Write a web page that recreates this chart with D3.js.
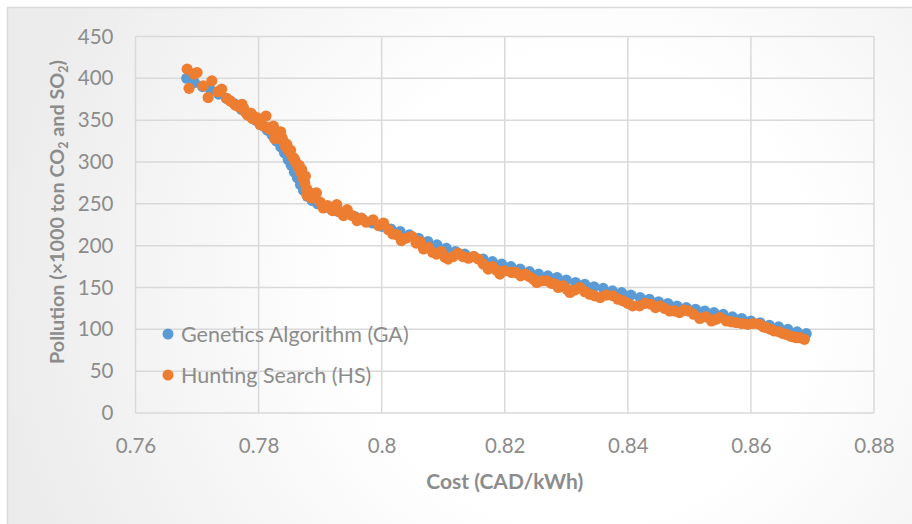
<!DOCTYPE html>
<html>
<head>
<meta charset="utf-8">
<script src="https://cdn.jsdelivr.net/npm/d3@7"></script>
<style>
    body { margin: 0; background: #ffffff; }
    svg { display: block; }
    text { font-family: Lato, "Open Sans", sans-serif; fill: #8c8c8c; }
</style>
</head>
<body>
<script>
// Genetics Algorithm (GA) - cost (CAD/kWh) and pollution (x1000 ton)
const gaCost = [
    0.7683, 0.7696, 0.7709, 0.7722, 0.7735, 0.7748, 0.7760, 0.7772, 0.7784, 0.7795,
    0.7805, 0.7814, 0.7822, 0.7829, 0.7836, 0.7842, 0.7848, 0.7853, 0.7858, 0.7863,
    0.7868, 0.7873, 0.7879, 0.7887, 0.7896, 0.7906, 0.7917, 0.7929, 0.7942, 0.7956,
    0.7970, 0.7985, 0.8000, 0.8015, 0.8030, 0.8045, 0.8060, 0.8075, 0.8090, 0.8105,
    0.8120, 0.8135, 0.8150, 0.8165, 0.8180, 0.8195, 0.8210, 0.8225, 0.8240, 0.8255,
    0.8270, 0.8285, 0.8300, 0.8315, 0.8330, 0.8345, 0.8360, 0.8375, 0.8390, 0.8405,
    0.8420, 0.8435, 0.8450, 0.8465, 0.8480, 0.8495, 0.8510, 0.8525, 0.8540, 0.8555,
    0.8570, 0.8585, 0.8600, 0.8615, 0.8630, 0.8645, 0.8660, 0.8675, 0.8690
];
const gaPollution = [
    400, 395, 390, 386, 381, 376, 370, 363, 356, 350,
    344, 338, 332, 325, 318, 311, 303, 296, 288, 281,
    273, 266, 259, 254, 250, 247, 244, 241, 238, 235,
    231, 227, 223, 220, 217, 213, 209, 205, 201, 197,
    193, 190, 187, 184, 181, 178, 175, 172, 169, 166,
    164, 162, 159, 156, 154, 151, 149, 146, 144, 141,
    138, 136, 133, 131, 128, 126, 124, 122, 120, 118,
    115, 113, 110, 108, 105, 103, 100, 97, 95
];

// Hunting Search (HS)
const hsCost = [
    0.7684, 0.7687, 0.7695, 0.7700, 0.7710, 0.7718, 0.7724, 0.7734, 0.7740, 0.7748,
    0.7754, 0.7762, 0.7768, 0.7773, 0.7778, 0.7782, 0.7790, 0.7797, 0.7802, 0.7808,
    0.7812, 0.7818, 0.7824, 0.7826, 0.7830, 0.7836, 0.7840, 0.7846, 0.7850, 0.7855,
    0.7860, 0.7864, 0.7868, 0.7872, 0.7875, 0.7878, 0.7879, 0.7886, 0.7894, 0.7900,
    0.7905, 0.7912, 0.7920, 0.7927, 0.7933, 0.7938, 0.7944, 0.7952, 0.7960, 0.7967,
    0.7975, 0.7986, 0.7995, 0.8003, 0.8011, 0.8018, 0.8025, 0.8032, 0.8040, 0.8049,
    0.8056, 0.8062, 0.8068, 0.8076, 0.8083, 0.8089, 0.8097, 0.8103, 0.8108, 0.8116,
    0.8124, 0.8132, 0.8141, 0.8149, 0.8157, 0.8165, 0.8173, 0.8180, 0.8186, 0.8192,
    0.8200, 0.8211, 0.8218, 0.8226, 0.8233, 0.8240, 0.8246, 0.8252, 0.8260, 0.8268,
    0.8276, 0.8282, 0.8287, 0.8295, 0.8301, 0.8306, 0.8314, 0.8322, 0.8330, 0.8338,
    0.8346, 0.8355, 0.8365, 0.8376, 0.8384, 0.8392, 0.8400, 0.8408, 0.8419, 0.8428,
    0.8438, 0.8445, 0.8452, 0.8460, 0.8468, 0.8476, 0.8484, 0.8491, 0.8498, 0.8507,
    0.8517, 0.8527, 0.8536, 0.8543, 0.8550, 0.8560, 0.8568, 0.8576, 0.8585, 0.8595,
    0.8604, 0.8614, 0.8620, 0.8625, 0.8632, 0.8638, 0.8646, 0.8652, 0.8657, 0.8664,
    0.8669, 0.8674, 0.8680, 0.8687,
    // extra points along the steep part
    0.7776, 0.7788, 0.7800, 0.7815, 0.7828, 0.7838, 0.7844, 0.7852, 0.7858, 0.7866,
    0.7870, 0.7876, 0.7882, 0.7890
];
const hsPollution = [
    411, 388, 405, 407, 391, 377, 397, 384, 387, 376,
    373, 368, 366, 369, 360, 356, 352, 353, 345, 343,
    355, 339, 343, 328, 332, 336, 325, 321, 312, 306,
    300, 294, 288, 281, 275, 268, 260, 257, 263, 252,
    245, 248, 242, 249, 240, 236, 243, 236, 230, 233,
    228, 231, 224, 227, 219, 214, 213, 206, 209, 211,
    203, 205, 196, 198, 192, 190, 193, 186, 184, 187,
    191, 187, 185, 187, 184, 178, 172, 175, 171, 166,
    170, 168, 168, 164, 166, 163, 160, 156, 158, 158,
    155, 154, 150, 152, 148, 144, 147, 150, 145, 142,
    140, 138, 141, 140, 136, 134, 131, 128, 128, 131,
    130, 126, 128, 125, 122, 122, 120, 123, 122, 118,
    113, 115, 110, 112, 114, 110, 109, 108, 107, 106,
    107, 106, 103, 102, 100, 98, 97, 95, 94, 92,
    91, 90, 90, 88,
    364, 358, 349, 341, 337, 329, 318, 314, 304, 296,
    291, 283, 264, 258
];

const xTicks = [0.76, 0.78, 0.8, 0.82, 0.84, 0.86, 0.88];
const yTicks = [0, 50, 100, 150, 200, 250, 300, 350, 400, 450];
const seriesNames = ["Genetics Algorithm (GA)", "Hunting Search (HS)"];
const seriesColors = ["#5b9bd5", "#ed7d31"];

const W = 912, H = 524;
const margin = {top: 36.5, right: 38, bottom: 111, left: 135.5};
const width = W - margin.left - margin.right;
const height = H - margin.top - margin.bottom;

const svg = d3.select("body").append("svg")
    .attr("width", W)
    .attr("height", H);

// chart area background (radial gradient like Excel)
const grad = svg.append("defs").append("radialGradient")
    .attr("id", "bg")
    .attr("gradientUnits", "userSpaceOnUse")
    .attr("cx", 580).attr("cy", 290).attr("r", 580);
grad.append("stop").attr("offset", "0.4").attr("stop-color", "#ffffff");
grad.append("stop").attr("offset", "1").attr("stop-color", "#ececec");

svg.append("rect")
    .attr("x", 7.5).attr("y", 7.5)
    .attr("width", W).attr("height", H)
    .attr("fill", "url(#bg)")
    .attr("stroke", "#d9d9d9")
    .attr("stroke-width", 1.5);

const g = svg.append("g")
    .attr("transform", `translate(${margin.left},${margin.top})`);

const x = d3.scaleLinear().domain([0.76, 0.88]).range([0, width]);
const y = d3.scaleLinear().domain([0, 450]).range([height, 0]);

// gridlines
g.append("g")
    .selectAll("line")
    .data(yTicks)
    .join("line")
    .attr("x1", 0).attr("x2", width)
    .attr("y1", d => y(d)).attr("y2", d => y(d))
    .attr("stroke", "#d9d9d9")
    .attr("stroke-width", 1.5);

g.append("g")
    .selectAll("line")
    .data(xTicks)
    .join("line")
    .attr("x1", d => x(d)).attr("x2", d => x(d))
    .attr("y1", 0).attr("y2", height)
    .attr("stroke", "#d9d9d9")
    .attr("stroke-width", 1.5);

// axes (labels only)
const xAxis = g.append("g")
    .attr("transform", `translate(0,${height})`)
    .call(d3.axisBottom(x).tickValues(xTicks).tickSize(0).tickPadding(25).tickFormat(d => String(+d.toFixed(2))));
const yAxis = g.append("g")
    .call(d3.axisLeft(y).tickValues(yTicks).tickSize(0).tickPadding(22).tickFormat(d3.format("d")));

[xAxis, yAxis].forEach(a => {
    a.select(".domain").remove();
    a.selectAll("text")
        .attr("fill", "#8c8c8c")
        .style("font-family", "Lato, 'Open Sans', sans-serif")
        .style("font-size", "20.5px");
});

// data points
const gaData = gaCost.map((c, i) => ({c: c, p: gaPollution[i]}));
const hsData = hsCost.map((c, i) => ({c: c, p: hsPollution[i]}));

g.append("g")
    .selectAll("circle")
    .data(gaData)
    .join("circle")
    .attr("cx", d => x(d.c))
    .attr("cy", d => y(d.p))
    .attr("r", 5.5)
    .attr("fill", seriesColors[0]);

g.append("g")
    .selectAll("circle")
    .data(hsData)
    .join("circle")
    .attr("cx", d => x(d.c))
    .attr("cy", d => y(d.p))
    .attr("r", 5.6)
    .attr("fill", seriesColors[1]);

// legend
const legend = svg.append("g").attr("transform", "translate(168,334)");
seriesNames.forEach((name, i) => {
    const row = legend.append("g").attr("transform", `translate(0,${i * 41})`);
    row.append("circle").attr("r", 5.5).attr("fill", seriesColors[i]);
    row.append("text")
        .attr("x", 13)
        .attr("dy", "0.35em")
        .style("font-size", "21.5px")
        .text(name);
});

// axis titles
svg.append("text")
    .attr("x", margin.left + width / 2)
    .attr("y", 489)
    .attr("text-anchor", "middle")
    .style("font-size", "21px")
    .style("font-weight", "bold")
    .text("Cost (CAD/kWh)");

const yTitle = svg.append("text")
    .attr("transform", "translate(64,212) rotate(-90)")
    .attr("text-anchor", "middle")
    .style("font-size", "19.8px")
    .style("font-weight", "bold");
yTitle.append("tspan").text("Pollution (×1000 ton CO");
yTitle.append("tspan").attr("dy", 4).style("font-size", "12.5px").text("2");
yTitle.append("tspan").attr("dy", -4).text(" and SO");
yTitle.append("tspan").attr("dy", 4).style("font-size", "12.5px").text("2");
yTitle.append("tspan").attr("dy", -4).text(")");
</script>
</body>
</html>
